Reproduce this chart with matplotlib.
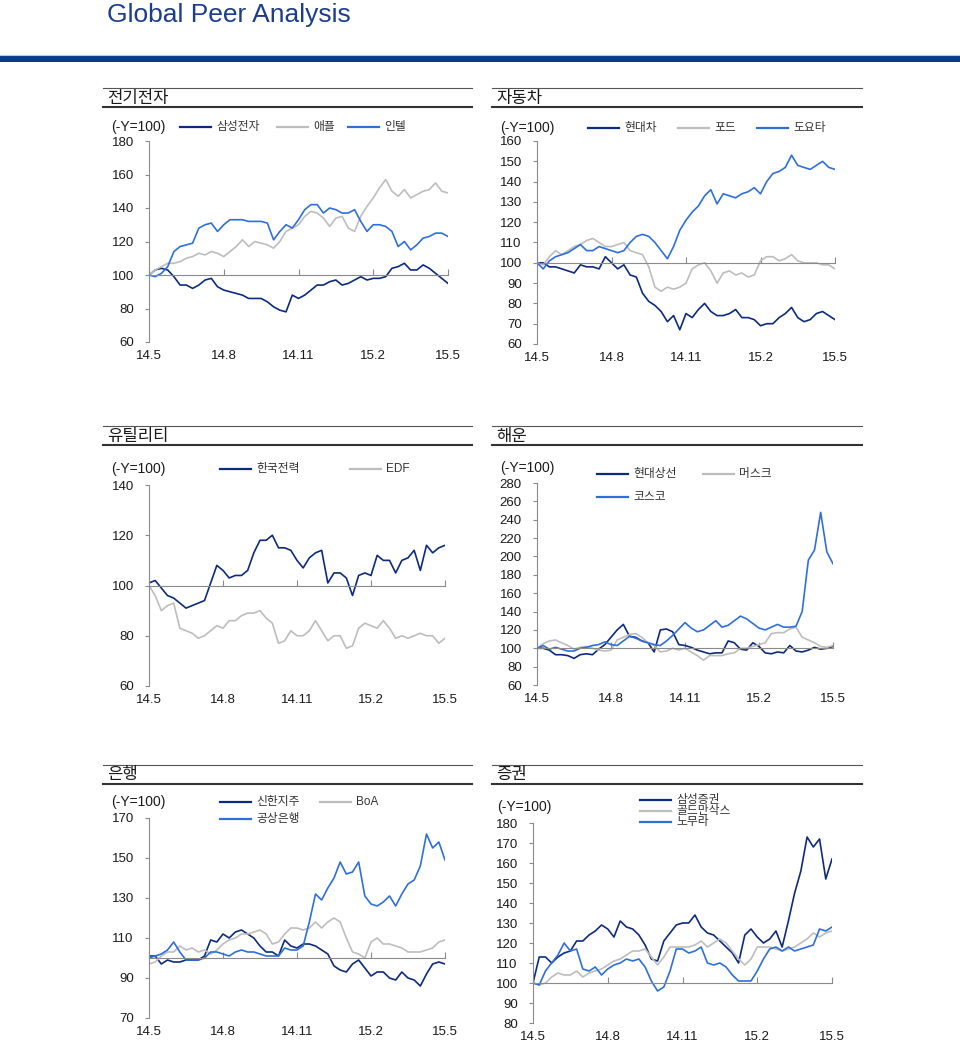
import matplotlib

matplotlib.use("Agg")
import matplotlib.pyplot as plt
from matplotlib.lines import Line2D
from matplotlib.patches import Rectangle
import numpy as np

plt.rcParams["font.family"] = ["Liberation Sans", "Noto Sans CJK KR"]

W, H = 960, 1044

NAVY = "#0d2b7e"
GRAY = "#bdbdbd"
BLUE = "#2f6fd8"
AXIS = "#8a8a8a"
INK = "#1a1a1a"
TITLE_BLUE = "#1c3d8c"

# 공통 x축: 14.5 ~ 15.5, 0.25개월 간격 (49개)
MONTHS = np.linspace(0, 12, 49)
TICK_POS = [0, 3, 6, 9, 12]
TICK_LABELS = ["14.5", "14.8", "14.11", "15.2", "15.5"]

# --- 전기전자 ---
SAMSUNG = [100, 103, 104, 103, 99, 94, 94, 92, 94, 97, 98, 93,
           91, 90, 89, 88, 86, 86, 86, 84, 81, 79, 78, 88,
           86, 88, 91, 94, 94, 96, 97, 94, 95, 97, 99, 97,
           98, 98, 99, 104, 105, 107, 103, 103, 106, 104, 101, 98, 95]
APPLE = [100, 103, 105, 107, 107, 108, 110, 111, 113, 112, 114, 113,
         111, 114, 117, 121, 117, 120, 119, 118, 116, 120, 126, 128,
         130, 135, 138, 137, 134, 129, 134, 135, 128, 126, 135, 141,
         146, 152, 157, 150, 147, 151, 146, 148, 150, 151, 155, 150, 149]
INTEL = [100, 99, 101, 105, 114, 117, 118, 119, 128, 130, 131, 126,
         130, 133, 133, 133, 132, 132, 132, 131, 121, 126, 130, 128,
         133, 139, 142, 142, 137, 140, 139, 137, 137, 139, 132, 126,
         130, 130, 129, 126, 117, 120, 115, 118, 122, 123, 125, 125, 123]

# --- 자동차 ---
HYUNDAI = [100, 100, 98, 98, 97, 96, 95, 99, 98, 98, 97, 103,
           100, 97, 99, 94, 93, 85, 81, 79, 76, 71, 74, 67,
           75, 73, 77, 80, 76, 74, 74, 75, 77, 73, 73, 72,
           69, 70, 70, 73, 75, 78, 73, 71, 72, 75, 76, 74, 72]
FORD = [100, 99, 103, 106, 104, 106, 108, 109, 111, 112, 110, 108,
        108, 109, 110, 106, 105, 104, 98, 88, 86, 88, 87, 88,
        90, 97, 99, 100, 96, 90, 95, 96, 94, 95, 93, 94,
        101, 103, 103, 101, 102, 104, 101, 100, 100, 100, 99, 99, 97]
TOYOTA = [100, 97, 101, 103, 104, 105, 107, 109, 106, 106, 108, 107,
          106, 105, 106, 110, 113, 114, 113, 110, 106, 102, 108, 116,
          121, 125, 128, 133, 136, 129, 134, 133, 132, 134, 135, 137,
          134, 140, 144, 145, 147, 153, 148, 147, 146, 148, 150, 147, 146]

# --- 유틸리티 ---
KEPCO = [101, 102, 99, 96, 95, 93, 91, 92, 93, 94, 101, 108,
         106, 103, 104, 104, 106, 113, 118, 118, 120, 115, 115, 114,
         110, 107, 111, 113, 114, 101, 105, 105, 103, 96, 104, 105,
         104, 112, 110, 110, 105, 110, 111, 114, 106, 116, 113, 115, 116]
EDF = [100, 96, 90, 92, 93, 83, 82, 81, 79, 80, 82, 84,
       83, 86, 86, 88, 89, 89, 90, 87, 85, 77, 78, 82,
       80, 80, 82, 86, 82, 78, 80, 80, 75, 76, 83, 85,
       84, 83, 86, 83, 79, 80, 79, 80, 81, 80, 80, 77, 79]

# --- 해운 ---
HMM = [100, 100, 98, 93, 93, 92, 89, 93, 94, 93, 99, 104,
       112, 120, 126, 113, 112, 108, 106, 96, 120, 121, 118, 104,
       103, 101, 98, 96, 94, 95, 95, 108, 106, 99, 98, 106,
       102, 95, 94, 96, 95, 103, 97, 96, 98, 101, 99, 100, 102]
MAERSK = [100, 105, 108, 109, 106, 103, 99, 101, 102, 100, 98, 97,
          98, 109, 112, 115, 116, 112, 106, 103, 96, 97, 100, 98,
          100, 96, 92, 87, 92, 92, 92, 94, 95, 100, 100, 102,
          104, 106, 116, 117, 117, 121, 123, 112, 109, 106, 102, 101, 103]
COSCO = [100, 103, 99, 101, 99, 97, 97, 100, 101, 103, 104, 107,
         104, 103, 108, 113, 111, 108, 106, 104, 103, 108, 114, 121,
         128, 122, 118, 120, 125, 130, 123, 125, 130, 135, 132, 127,
         122, 120, 123, 126, 123, 123, 124, 140, 196, 207, 248, 205, 192]

# --- 은행 ---
SHINHAN = [101, 101, 97, 99, 98, 98, 99, 99, 99, 101, 109, 108,
           112, 110, 113, 114, 112, 110, 106, 103, 103, 101, 109, 106,
           105, 107, 107, 106, 104, 102, 96, 94, 93, 97, 99, 95,
           91, 93, 93, 90, 89, 93, 90, 89, 86, 92, 97, 98, 97]
BOA = [97, 98, 101, 103, 103, 106, 104, 105, 103, 104, 102, 104,
       107, 109, 110, 112, 112, 113, 114, 112, 107, 108, 112, 115,
       115, 114, 115, 118, 115, 118, 120, 118, 110, 103, 102, 100,
       108, 110, 107, 107, 106, 105, 103, 103, 103, 104, 105, 108, 109]
ICBC = [100, 101, 102, 104, 108, 103, 99, 99, 99, 100, 103, 103,
        102, 101, 103, 104, 103, 103, 102, 101, 101, 101, 105, 104,
        104, 106, 118, 132, 129, 135, 140, 148, 142, 143, 148, 131,
        127, 126, 128, 131, 126, 132, 137, 139, 146, 162, 155, 158, 149]

# --- 증권 ---
SAMSUNG_SEC = [100, 113, 113, 110, 113, 115, 116, 121, 121, 124, 126, 129,
               127, 123, 131, 128, 127, 124, 119, 112, 111, 121, 125, 129,
               130, 130, 134, 128, 125, 124, 121, 118, 115, 110, 124, 127,
               123, 120, 122, 126, 118, 131, 145, 156, 173, 168, 172, 152, 162]
GOLDMAN = [100, 99, 100, 103, 105, 104, 104, 106, 103, 105, 106, 107,
           109, 111, 112, 114, 116, 116, 117, 113, 109, 113, 118, 118,
           118, 118, 119, 121, 118, 120, 122, 120, 116, 112, 109, 112,
           118, 118, 118, 117, 116, 117, 118, 120, 122, 125, 123, 125, 126]
NOMURA = [100, 99, 106, 110, 114, 120, 116, 117, 107, 106, 108, 104,
          107, 109, 110, 112, 111, 112, 108, 101, 96, 98, 106, 117,
          117, 115, 116, 118, 110, 109, 110, 108, 104, 101, 101, 101,
          106, 112, 117, 118, 116, 118, 116, 117, 118, 119, 127, 126, 128]


def fx(px):
    return px / W


def fy(py):
    return 1 - py / H


def draw_panel(fig, title, head_x, head_y, ax_px, ylim, yticks, series,
               legend, unit_xy):
    """한 섹터 패널: 제목 줄, 지수(기준=100) 선 차트, 수동 범례."""
    x0, x1 = head_x
    fig.add_artist(Line2D([fx(x0), fx(x1)], [fy(head_y)] * 2,
                          color="#555555", linewidth=0.8))
    fig.add_artist(Line2D([fx(x0), fx(x1)], [fy(head_y + 19)] * 2,
                          color="#333333", linewidth=1.5))
    fig.text(fx(x0 + 4), fy(head_y + 10), title, fontsize=12, color=INK,
             va="center", ha="left")

    left, top, right, bottom = ax_px
    ax = fig.add_axes([fx(left), fy(bottom), (right - left) / W,
                       (bottom - top) / H])
    for (label, color, values) in series:
        ax.plot(MONTHS, values, color=color, linewidth=1.2)

    ax.set_xlim(0, 12)
    ax.set_ylim(*ylim)
    ax.set_yticks(yticks)
    ax.tick_params(axis="y", direction="out", length=3, pad=8,
                   color=AXIS, labelsize=9.5, labelcolor=INK)
    for s in ("top", "right"):
        ax.spines[s].set_visible(False)
    ax.spines["left"].set_color(AXIS)
    # 가로축은 100에서 교차, 라벨은 아래쪽
    ax.spines["bottom"].set_position(("data", 100))
    ax.spines["bottom"].set_color(AXIS)
    ax.set_xticks(TICK_POS)
    ax.tick_params(axis="x", direction="in", length=4, color=AXIS,
                   labelbottom=False)
    sec = ax.secondary_xaxis(0)
    sec.spines["bottom"].set_visible(False)
    sec.set_xticks(TICK_POS, TICK_LABELS)
    sec.tick_params(length=0, pad=6, labelsize=9.5, labelcolor=INK)

    fig.text(fx(unit_xy[0]), fy(unit_xy[1]), "(-Y=100)", fontsize=10,
             color=INK, va="center", ha="left")
    for (lx, ly, idx) in legend:
        label, color, _ = series[idx]
        fig.add_artist(Line2D([fx(lx), fx(lx + 31)], [fy(ly)] * 2,
                              color=color, linewidth=1.6))
        fig.text(fx(lx + 36), fy(ly), label, fontsize=8.5, color="#333333",
                 va="center", ha="left")
    return ax


fig = plt.figure(figsize=(W / 100, H / 100), dpi=100, facecolor="white")

fig.text(fx(107), fy(15), "Global Peer Analysis", fontsize=19,
         color=TITLE_BLUE, va="center", ha="left")
fig.add_artist(Rectangle((0, fy(62)), 1, (62 - 56) / H,
                         transform=fig.transFigure, color="#0b3a8f",
                         linewidth=0))
fig.add_artist(Line2D([0, 1], [fy(55)] * 2, color="#b9cbe8", linewidth=0.8))

draw_panel(fig, "전기전자", (103, 472), 88, (149, 141, 448, 342), (60, 180),
           range(60, 181, 20),
           [("삼성전자", NAVY, SAMSUNG), ("애플", GRAY, APPLE),
            ("인텔", BLUE, INTEL)],
           [(180, 127, 0), (277, 127, 1), (348, 127, 2)], (111, 127))

draw_panel(fig, "자동차", (492, 862), 88, (537, 141, 835, 344), (60, 160),
           range(60, 161, 10),
           [("현대차", NAVY, HYUNDAI), ("포드", GRAY, FORD),
            ("도요타", BLUE, TOYOTA)],
           [(588, 128, 0), (678, 128, 1), (757, 128, 2)], (500, 128))

draw_panel(fig, "유틸리티", (103, 472), 426, (149, 485, 445, 686), (60, 140),
           range(60, 141, 20),
           [("한국전력", NAVY, KEPCO), ("EDF", GRAY, EDF)],
           [(220, 469, 0), (350, 469, 1)], (111, 469))

draw_panel(fig, "해운", (492, 862), 426, (537, 483, 833, 685), (60, 280),
           range(60, 281, 20),
           [("현대상선", NAVY, HMM), ("머스크", GRAY, MAERSK),
            ("코스코", BLUE, COSCO)],
           [(597, 474, 0), (703, 474, 1), (597, 497, 2)], (500, 468))

draw_panel(fig, "은행", (103, 472), 765, (149, 818, 445, 1018), (70, 170),
           range(70, 171, 20),
           [("신한지주", NAVY, SHINHAN), ("BoA", GRAY, BOA),
            ("공상은행", BLUE, ICBC)],
           [(220, 802, 0), (320, 802, 1), (220, 819, 2)], (111, 802))

draw_panel(fig, "증권", (492, 862), 765, (533, 823, 832, 1023), (80, 180),
           range(80, 181, 10),
           [("삼성증권", NAVY, SAMSUNG_SEC), ("골드만삭스", GRAY, GOLDMAN),
            ("노무라", BLUE, NOMURA)],
           [(640, 800, 0), (640, 811, 1), (640, 822, 2)], (497, 807))

fig.savefig("out.png", dpi=100, facecolor="white")
